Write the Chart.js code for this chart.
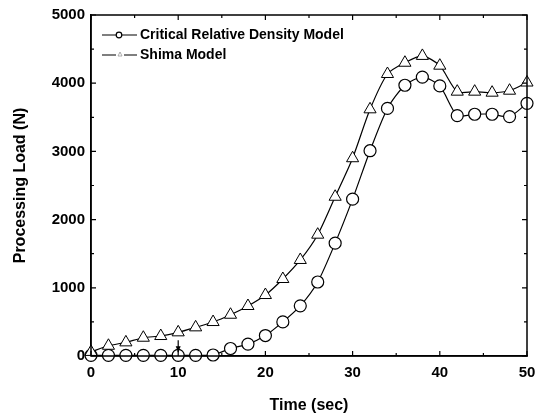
<!DOCTYPE html>
<html>
<head>
<meta charset="utf-8">
<script src="https://cdn.jsdelivr.net/npm/chart.js@4.4.1/dist/chart.umd.min.js"></script>
<style>
  html, body { margin: 0; padding: 0; background: #fff; }
  #wrap { width: 548px; height: 417px; }
</style>
</head>
<body>
<div id="wrap"><canvas id="chart" width="548" height="417"></canvas></div>
<script>
// tempo (s) dos marcadores
const tempos = [0, 2, 4, 6, 8, 10, 12, 14, 16, 18, 20, 22, 24, 26, 28, 30, 32, 34, 36, 38, 40, 42, 44, 46, 48, 50];
// Critical Relative Density Model
const cargaCritica = [10, 10, 10, 10, 10, 10, 10, 15, 110, 175, 300, 500, 735, 1085, 1655, 2300, 3010, 3630, 3970, 4090, 3960, 3525, 3545, 3545, 3510, 3705];
// Shima Model
const cargaShima = [60, 150, 200, 268, 293, 347, 420, 498, 605, 733, 894, 1129, 1408, 1779, 2335, 2900, 3617, 4135, 4300, 4400, 4257, 3876, 3876, 3861, 3890, 4010];
const ticksX = [0, 10, 20, 30, 40, 50];
const ticksY = [0, 1000, 2000, 3000, 4000, 5000];
const nomesSeries = ['Critical Relative Density Model', 'Shima Model'];

const fonteTick = { family: 'Liberation Sans, Arial, sans-serif', size: 15, weight: 'bold' };
const fonteTitulo = { family: 'Liberation Sans, Arial, sans-serif', size: 16, weight: 'bold' };

function pontos(ys) {
  return tempos.map((t, i) => ({ x: t, y: ys[i] }));
}

// moldura, ticks internos, seta e legenda
const extras = {
  id: 'extras',
  afterDraw(chart) {
    const { ctx, chartArea: a, scales: { x, y } } = chart;
    ctx.save();
    ctx.strokeStyle = '#000';
    ctx.lineWidth = 1.5;
    ctx.strokeRect(a.left, a.top, a.right - a.left, a.bottom - a.top);

    ctx.lineWidth = 1.2;
    ctx.beginPath();
    for (let v = 0; v <= 50; v += 5) {
      const px = x.getPixelForValue(v);
      const len = v % 10 === 0 ? 5 : 3;
      ctx.moveTo(px, a.bottom); ctx.lineTo(px, a.bottom - len);
      ctx.moveTo(px, a.top); ctx.lineTo(px, a.top + len);
    }
    for (let v = 0; v <= 5000; v += 500) {
      const py = y.getPixelForValue(v);
      const len = v % 1000 === 0 ? 5 : 3;
      ctx.moveTo(a.left, py); ctx.lineTo(a.left + len, py);
      ctx.moveTo(a.right, py); ctx.lineTo(a.right - len, py);
    }
    ctx.stroke();

    // seta em t = 10 s
    const ax = x.getPixelForValue(10);
    const y1 = y.getPixelForValue(cargaShima[5]) + 8;
    const y2 = y.getPixelForValue(cargaCritica[5]) - 3;
    ctx.beginPath();
    ctx.moveTo(ax, y1); ctx.lineTo(ax, y2);
    ctx.stroke();
    ctx.fillStyle = '#000';
    ctx.beginPath();
    ctx.moveTo(ax - 2.5, y2 - 6); ctx.lineTo(ax + 2.5, y2 - 6); ctx.lineTo(ax, y2);
    ctx.closePath(); ctx.fill();

    // legenda
    ctx.font = 'bold 14px Liberation Sans, Arial, sans-serif';
    ctx.textBaseline = 'middle';
    ctx.lineWidth = 1.2;
    let ly = 35;
    ctx.beginPath();
    ctx.moveTo(102, ly); ctx.lineTo(137, ly);
    ctx.stroke();
    ctx.fillStyle = '#fff';
    ctx.beginPath(); ctx.arc(119, ly, 2.8, 0, Math.PI * 2); ctx.fill(); ctx.stroke();
    ctx.fillStyle = '#000';
    ctx.fillText(nomesSeries[0], 140, ly);

    ly = 55;
    ctx.beginPath();
    ctx.moveTo(102, ly); ctx.lineTo(116, ly);
    ctx.moveTo(124, ly); ctx.lineTo(137, ly);
    ctx.stroke();
    ctx.strokeStyle = '#999';
    ctx.lineWidth = 0.8;
    ctx.beginPath();
    ctx.moveTo(118, ly + 1); ctx.lineTo(122, ly + 1); ctx.lineTo(120, ly - 3); ctx.closePath();
    ctx.stroke();
    ctx.fillText(nomesSeries[1], 140, ly);
    ctx.restore();
  }
};

new Chart(document.getElementById('chart'), {
  type: 'line',
  data: {
    datasets: [
      {
        label: nomesSeries[1],
        data: pontos(cargaShima),
        borderColor: '#000',
        borderWidth: 1.2,
        backgroundColor: '#fff',
        pointStyle: 'triangle',
        pointRadius: 7,
        pointBorderWidth: 1,
        pointBorderColor: '#000',
        pointBackgroundColor: '#fff',
        tension: 0.25
      },
      {
        label: nomesSeries[0],
        data: pontos(cargaCritica),
        borderColor: '#000',
        borderWidth: 1.2,
        backgroundColor: '#fff',
        pointStyle: 'circle',
        pointRadius: 6,
        pointBorderWidth: 1.2,
        pointBorderColor: '#000',
        pointBackgroundColor: '#fff',
        tension: 0.25
      }
    ]
  },
  options: {
    responsive: false,
    animation: false,
    clip: false,
    layout: { padding: { top: 15, right: 21, left: 0, bottom: 0 } },
    plugins: { legend: { display: false }, tooltip: { enabled: false } },
    scales: {
      x: {
        type: 'linear',
        min: 0, max: 50,
        afterFit(s) { s.height = 61; },
        afterBuildTicks(s) { s.ticks = ticksX.map(v => ({ value: v })); },
        grid: { display: false, drawTicks: false },
        border: { display: true, color: '#000', width: 1.5 },
        ticks: { color: '#000', font: fonteTick, padding: 8, maxRotation: 0, callback: v => String(v) },
        title: { display: true, text: 'Time (sec)', color: '#000', font: fonteTitulo, padding: { top: 0, bottom: 2 } }
      },
      y: {
        type: 'linear',
        min: 0, max: 5000,
        afterFit(s) { s.width = 91; },
        afterBuildTicks(s) { s.ticks = ticksY.map(v => ({ value: v })); },
        grid: { display: false, drawTicks: false },
        border: { display: true, color: '#000', width: 1.5 },
        ticks: { color: '#000', font: fonteTick, padding: 6, callback: v => String(v) },
        title: { display: true, text: 'Processing Load (N)', color: '#000', font: fonteTitulo, padding: { top: 11, bottom: 0 } }
      }
    }
  },
  plugins: [extras]
});
</script>
</body>
</html>
